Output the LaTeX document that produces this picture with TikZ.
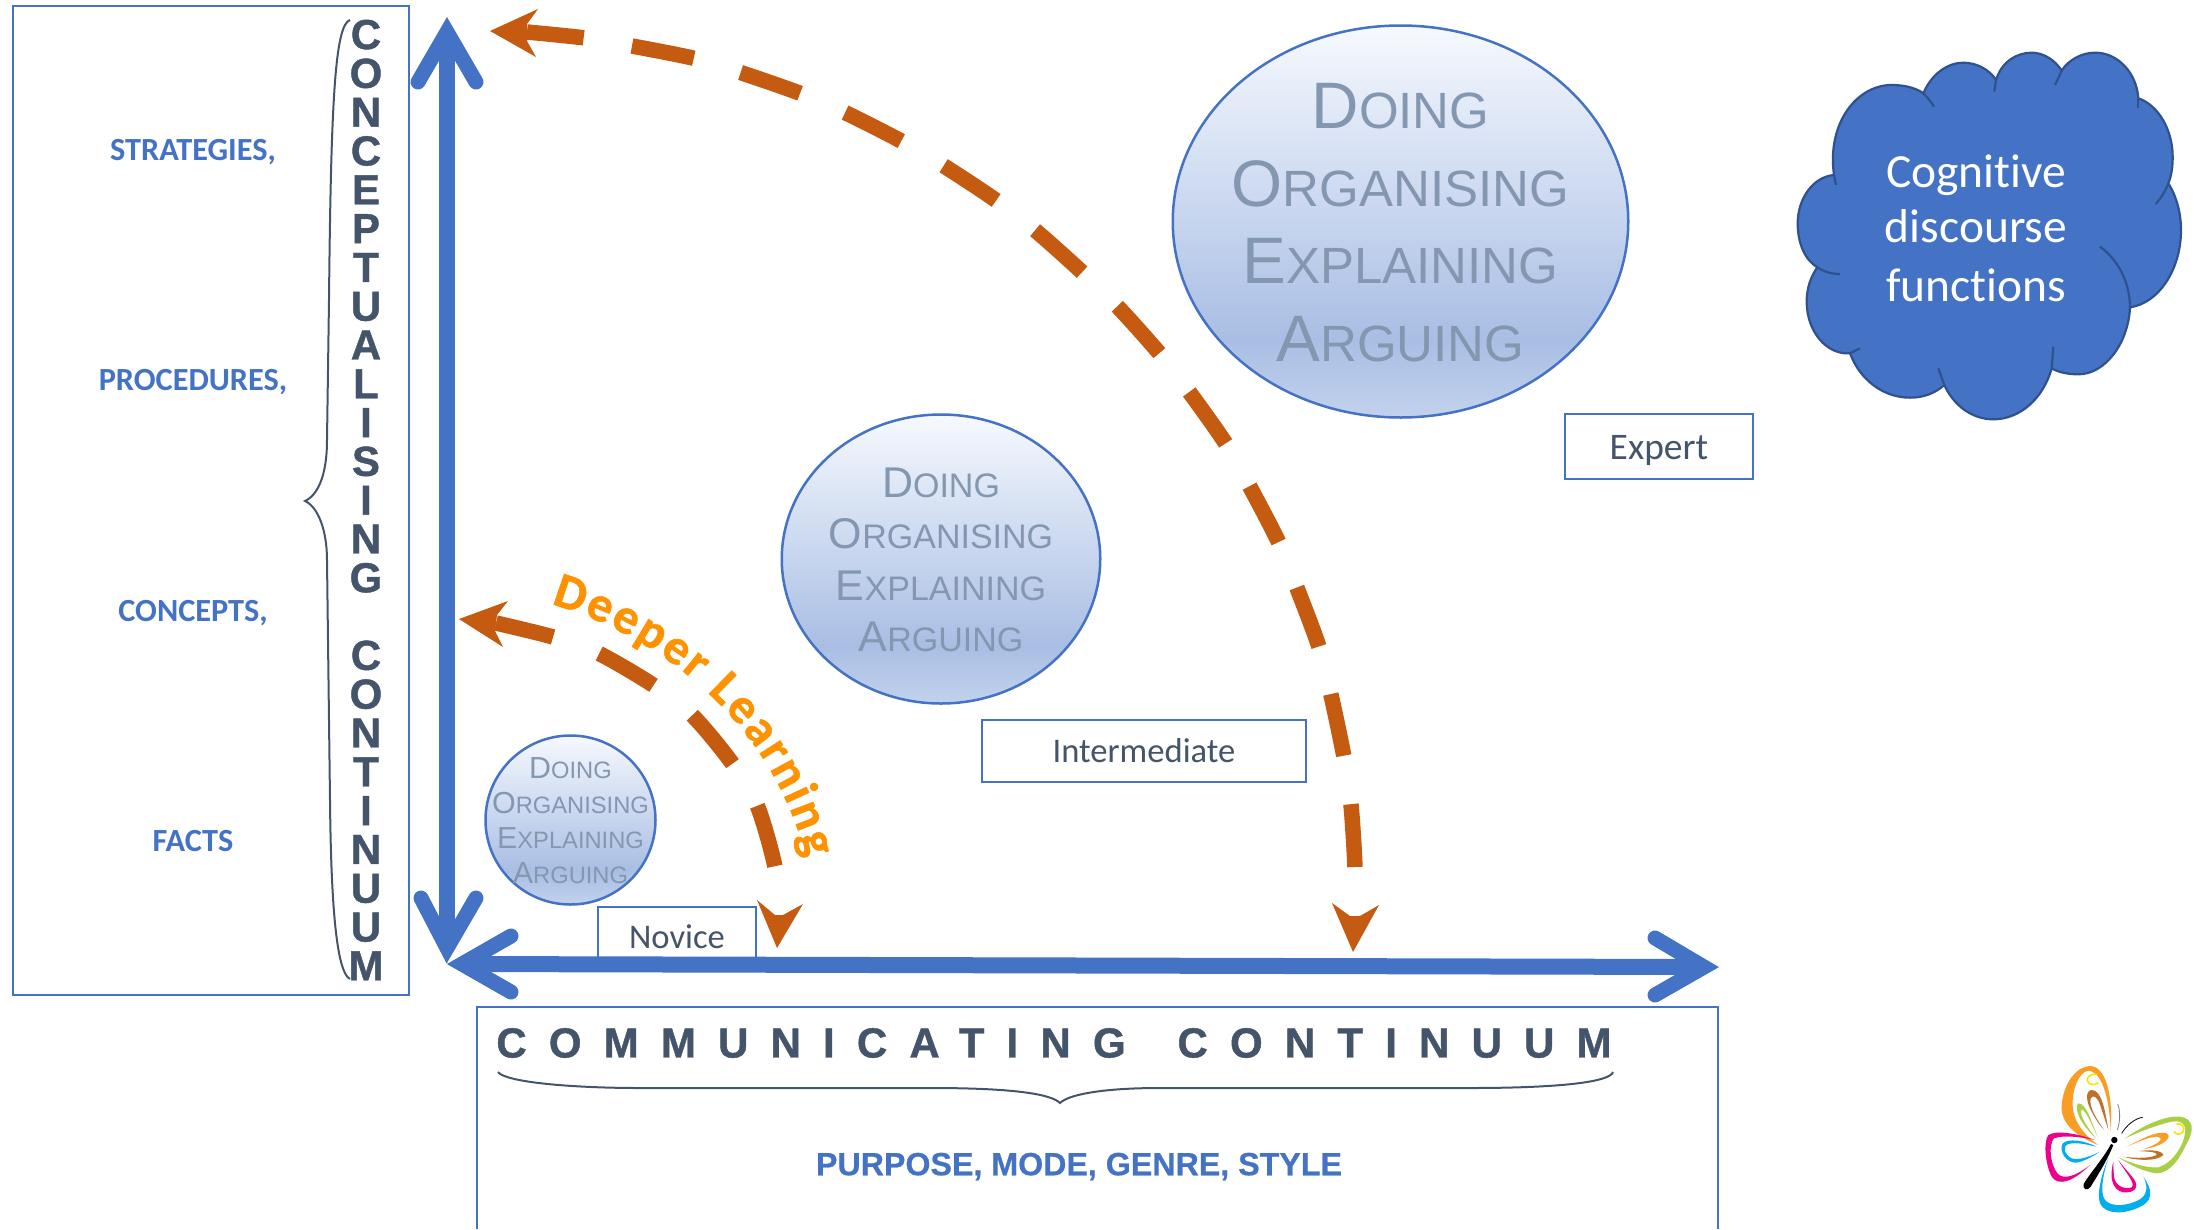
\documentclass[tikz,border=0pt]{standalone}
\usepackage{fontspec}
\usetikzlibrary{shapes.geometric,decorations.text}
\setmainfont[Ligatures=NoCommon]{Carlito}
\newfontfamily\hv{Liberation Sans}
\newfontfamily\hvb[FakeBold=1]{Liberation Sans Bold}
\newfontfamily\hvbs[FakeBold=1,LetterSpace=52.8]{Liberation Sans Bold}
\newfontfamily\hvbp[FakeBold=.6]{Liberation Sans Bold}
\newfontfamily\dlf[FakeBold=1,Ligatures=NoCommon]{Carlito Bold}
\definecolor{dblue}{HTML}{4472C4}
\definecolor{dedge}{HTML}{2F528F}
\definecolor{dorange}{HTML}{C55A11}
\definecolor{dslate}{HTML}{44546A}
\definecolor{dgray}{HTML}{8497B0}
\definecolor{dlearn}{HTML}{FF9200}
\definecolor{gT}{HTML}{F6F9FE}
\definecolor{gM}{HTML}{A9BEE4}
\definecolor{gB}{HTML}{C2D2ED}
\pgfdeclareverticalshading{circgrad}{100bp}{color(0bp)=(gB);color(25bp)=(gB);color(35bp)=(gM);color(75bp)=(gT);color(100bp)=(gT)}
\newcommand\sclines[2]{%
 {\fontsize{#1}{#1}\selectfont D}{\fontsize{#2}{#2}\selectfont OING}\\
 {\fontsize{#1}{#1}\selectfont O}{\fontsize{#2}{#2}\selectfont RGANISING}\\
 {\fontsize{#1}{#1}\selectfont E}{\fontsize{#2}{#2}\selectfont XPLAINING}\\
 {\fontsize{#1}{#1}\selectfont A}{\fontsize{#2}{#2}\selectfont RGUING}}
\tikzset{
 framebox/.style={draw=dblue,line width=2pt},
 labelbox/.style={draw=dblue,line width=2pt,fill=white,inner sep=0pt,outer sep=0pt,text=dslate,font=\fontsize{34.6}{34.6}\selectfont},
 sidelabel/.style={text=dblue,inner sep=0pt,font=\fontsize{32.3}{32.3}\selectfont\bfseries},
 blob/.style={ellipse,draw=dblue,line width=2.5pt,shading=circgrad,inner sep=0pt},
 blobtext/.style={text=dgray,inner sep=0pt,align=center},
 axisline/.style={draw=dblue,line width=16pt},
 axisbarb/.style={draw=dblue,line width=15pt,line cap=round,miter limit=10},
 pathline/.style={draw=dorange,line width=15.5pt,dash pattern=on 63pt off 49pt,dash phase=63pt},
 headfill/.style={fill=dorange},
 bracket/.style={draw=dslate,line width=2pt},
 cloudline/.style={draw=dedge,line width=2.2pt},
}
\begin{document}
\begin{tikzpicture}[x=1pt,y=-1pt]
\useasboundingbox (0,0) rectangle (2194,1229);

% frames
\draw[framebox] (13,6) rectangle (409,995);
\coordinate (cbl) at (477,1229);
\coordinate (cbr) at (1718,1229);
\draw[framebox] (cbl) -- (477,1007) -- (1718,1007) -- (cbr);

% left column
\node[sidelabel] (strat) at (193,152) {STRATEGIES,};
\node[sidelabel] (proc) at (193,382) {PROCEDURES,};
\node[sidelabel] (conc) at (193,613) {CONCEPTS,};
\node[sidelabel] (facts) at (193,841) {FACTS};
\draw[bracket] (350,20) .. controls (335,25) and (331,100) .. (329,300) -- (327,440) .. controls (327,475) and (318,495) .. (305,501) .. controls (318,507) and (327,530) .. (327,560) -- (330,800) .. controls (331,900) and (336,972) .. (350,979);
\node[text=dslate,inner sep=0pt,align=center,font=\hvb\fontsize{42}{38.8}\selectfont] (vtitle) at (366,500) {C\\O\\N\\C\\E\\P\\T\\U\\A\\L\\I\\S\\I\\N\\G\\[38.8pt]C\\O\\N\\T\\I\\N\\U\\U\\M};

% bottom column
\node[text=dslate,inner sep=0pt,font=\hvbs\fontsize{42}{42}\selectfont] (htitle) at (1054,1043) {COMMUNICATING\hspace{18pt} CONTINUUM};
\draw[bracket] (498,1072) .. controls (505,1082) and (570,1088) .. (640,1088) -- (931,1088) .. controls (1020,1088) and (1052,1095) .. (1060,1103) .. controls (1068,1095) and (1100,1088) .. (1160,1088) -- (1470,1088) .. controls (1560,1088) and (1610,1082) .. (1613,1072);
\node[text=dblue,inner sep=0pt,font=\hvbp\fontsize{32.2}{32.2}\selectfont] (pmgs) at (1079,1166.5) {PURPOSE, MODE, GENRE, STYLE};

% level boxes
\node[labelbox,minimum width=158pt,minimum height=60pt,anchor=north west,text height=22pt,text depth=0pt] (novice) at (598,907) {Novice};
\node[labelbox,minimum width=324pt,minimum height=62pt] (inter) at (1144,750.5) {Intermediate};
\node[labelbox,minimum width=188pt,minimum height=65pt,text height=30pt,text depth=5pt,font=\fontsize{37.5}{37.5}\selectfont] (expert) at (1659,446.5) {Expert};

% blobs
\node[blob,minimum width=455.5pt,minimum height=392pt] (bigblob) at (1400.5,221.5) {};
\node[blobtext,font=\hv\fontsize{65.7}{77.7}\selectfont] (bigtext) at (1400.5,222.5) {\sclines{65.7}{51}};
\node[blob,minimum width=318.5pt,minimum height=289pt] (midblob) at (941,559) {};
\node[blobtext,font=\hv\fontsize{43}{51.3}\selectfont] (midtext) at (941,560) {\sclines{43}{34}};
\node[blob,minimum width=170pt,minimum height=169pt] (smallblob) at (570.5,820) {};
\node[blobtext,font=\hv\fontsize{30.4}{35}\selectfont] (smalltext) at (570.5,821) {\sclines{30.4}{23.7}};

% dashed orange paths
\coordinate (bigstart) at (1355,916);
\coordinate (bigend) at (527,32);
\draw[pathline] plot[smooth,tension=.5] coordinates {(bigstart) (1355,868) (1351,805) (1344,757) (1331,695) (1319,647) (1297,588) (1279,543) (1250,487) (1226,444) (1190,393) (1160,354) (1118,307) (1083,273) (1036,231) (997,201) (944,166) (903,142) (846,113) (802,94) (742,73) (697,59) (632,46) (585,38) (bigend)};
\fill[headfill] (1332,903) -- (1350,916) -- (1360,916) -- (1379,905) -- (1353,952) -- cycle;
\fill[headfill] (490,31) -- (538,9) -- (527,24) -- (527,41) -- (536,57) -- cycle;
\coordinate (smallstart) at (779,915);
\coordinate (smallend) at (496,623);
\draw[pathline] plot[smooth,tension=.5] coordinates {(smallstart) (775,867) (757,805) (732,763) (692,715) (653,685) (598,653) (553,637) (smallend)};
\fill[headfill] (757,900) -- (775,915) -- (783,915) -- (803,904) -- (777,948) -- cycle;
\fill[headfill] (459,619) -- (508,601) -- (497,615) -- (495,631) -- (503,647) -- cycle;

% deeper learning
\coordinate (dla) at (551,604);
\coordinate (dlb) at (675,641);
\coordinate (dlc) at (775,733);
\coordinate (dld) at (806,858);
\path[decorate,decoration={text along path,text color=dlearn,text align=fit to path,text={|\dlf\fontsize{50}{50}\selectfont|Deeper Learning}}] (dla) .. controls (dlb) and (dlc) .. (dld);

% axes
\coordinate (vtop) at (447,32);
\coordinate (vbot) at (447,948);
\coordinate (hleft) at (462,964);
\coordinate (hright) at (1704,967);
\draw[axisline] (vtop) -- (vbot);
\draw[axisline] (hleft) -- (hright);
\draw[axisbarb] (418,82) -- (vtop) -- (476,82);
\draw[axisbarb] (421,898) -- (vbot) -- (476,898);
\draw[axisbarb] (511,936) -- (hleft) -- (511,992);
\draw[axisbarb] (1655,938) -- (hright) -- (1655,995);

% cloud
\begin{scope}[shift={(1760,30)},x=0.33333pt,y=-0.33333pt]
\draw[cloudline,fill=dblue] (222,435) .. controls (200,280) and (290,165) .. (395,165) .. controls (430,165) and (465,172) .. (490,190)
 .. controls (515,130) and (565,98) .. (610,98) .. controls (650,98) and (690,120) .. (708,150)
 .. controls (725,95) and (770,68) .. (815,68) .. controls (850,68) and (885,90) .. (905,122)
 .. controls (925,90) and (965,68) .. (1005,68) .. controls (1075,68) and (1130,130) .. (1135,205)
 .. controls (1195,225) and (1238,300) .. (1238,380) .. controls (1238,410) and (1235,435) .. (1225,460)
 .. controls (1250,500) and (1263,550) .. (1263,600) .. controls (1263,720) and (1195,820) .. (1110,832)
 .. controls (1105,940) and (1035,1033) .. (955,1033) .. controls (925,1033) and (895,1027) .. (875,1015)
 .. controls (850,1105) and (780,1168) .. (700,1168) .. controls (635,1168) and (580,1125) .. (553,1065)
 .. controls (525,1090) and (490,1103) .. (450,1103) .. controls (370,1103) and (300,1050) .. (270,970)
 .. controls (200,975) and (140,905) .. (140,815) .. controls (140,775) and (152,740) .. (172,712)
 .. controls (135,690) and (113,640) .. (113,580) .. controls (113,505) and (160,440) .. (222,435) -- cycle;
\draw[cloudline] (490,190) .. controls (503,203) and (513,215) .. (522,230);
\draw[cloudline] (708,150) -- (703,185);
\draw[cloudline] (905,122) -- (885,165);
\draw[cloudline] (1135,205) -- (1135,235);
\draw[cloudline] (1225,460) .. controls (1215,485) and (1203,505) .. (1187,522);
\draw[cloudline] (1020,650) .. controls (1075,690) and (1112,760) .. (1110,840);
\draw[cloudline] (875,1015) -- (880,950);
\draw[cloudline] (553,1065) -- (535,1015);
\draw[cloudline] (270,970) -- (300,955);
\draw[cloudline] (172,712) .. controls (190,725) and (215,732) .. (240,732);
\draw[cloudline] (222,435) -- (228,465);
\end{scope}
\node[text=white,inner sep=0pt,align=center,font=\fontsize{47.5}{55}\selectfont] (cloudtext) at (1976,228) {Cognitive\\discourse\\[4pt]functions};

% butterfly
\begin{scope}[shift={(1980,1030)},x=0.33333pt,y=-0.33333pt]
\definecolor{bo}{HTML}{F99D25}
\definecolor{bb}{HTML}{C0702A}
\definecolor{bg}{HTML}{A8CF45}
\definecolor{bm}{HTML}{EC008C}
\definecolor{bc}{HTML}{00AEEF}
\definecolor{by}{HTML}{F4E500}
\fill[bo] (355,345) .. controls (290,320) and (240,280) .. (245,225) .. controls (250,160) and (290,108) .. (330,108) .. controls (375,108) and (400,190) .. (392,305) .. controls (390,220) and (370,125) .. (325,122) .. controls (295,125) and (270,190) .. (280,245) .. controls (290,290) and (325,325) .. (355,345) -- cycle;
\draw[by,line width=1.6pt] (352,134) .. controls (335,128) and (320,140) .. (322,152) .. controls (325,165) and (345,168) .. (355,158);
\fill[bb] (385,300) .. controls (375,240) and (365,180) .. (335,180) .. controls (315,182) and (318,215) .. (335,245) .. controls (345,265) and (358,285) .. (372,300) .. controls (352,270) and (325,230) .. (332,205) .. controls (340,190) and (355,205) .. (362,230) .. controls (372,260) and (380,285) .. (385,300) -- cycle;
\fill[bg] (355,325) .. controls (335,280) and (320,220) .. (295,220) .. controls (280,235) and (300,280) .. (350,328) .. controls (325,295) and (295,255) .. (305,238) .. controls (318,240) and (335,285) .. (355,325) -- cycle;
\fill[bm] (345,330) .. controls (290,310) and (230,300) .. (205,315) .. controls (190,335) and (195,400) .. (215,440) .. controls (235,470) and (280,455) .. (330,405) .. controls (285,440) and (250,450) .. (232,430) .. controls (210,400) and (205,345) .. (222,325) .. controls (250,315) and (300,320) .. (345,330) -- cycle;
\fill[bc] (350,350) .. controls (310,330) and (265,325) .. (248,340) .. controls (235,365) and (260,400) .. (290,398) .. controls (315,393) and (340,378) .. (360,365) .. controls (330,380) and (295,392) .. (275,385) .. controls (255,375) and (245,350) .. (265,342) .. controls (290,335) and (325,345) .. (350,350) -- cycle;
\fill[bc] (385,385) .. controls (365,430) and (350,490) .. (360,520) .. controls (375,555) and (440,555) .. (490,525) .. controls (520,505) and (515,475) .. (490,440) .. controls (510,480) and (495,505) .. (465,515) .. controls (430,530) and (385,530) .. (372,505) .. controls (360,480) and (370,430) .. (385,385) -- cycle;
\fill[bm] (400,395) .. controls (388,440) and (395,480) .. (430,487) .. controls (465,490) and (480,470) .. (460,445) .. controls (440,420) and (425,405) .. (415,390) .. controls (430,420) and (470,460) .. (455,472) .. controls (430,480) and (405,465) .. (402,440) .. controls (400,420) and (400,405) .. (400,395) -- cycle;
\fill[bg] (435,325) .. controls (490,285) and (560,255) .. (600,260) .. controls (640,265) and (645,300) .. (620,340) .. controls (600,385) and (570,430) .. (530,430) .. controls (490,425) and (450,405) .. (415,382) .. controls (455,400) and (500,415) .. (535,412) .. controls (575,400) and (610,350) .. (615,310) .. controls (620,280) and (600,270) .. (575,275) .. controls (530,285) and (480,305) .. (435,325) -- cycle;
\draw[by,line width=1.6pt] (590,282) .. controls (605,278) and (615,292) .. (610,303) .. controls (605,315) and (588,315) .. (582,305);
\fill[bo] (440,350) .. controls (480,330) and (530,300) .. (560,310) .. controls (580,320) and (550,350) .. (490,357) .. controls (530,345) and (560,325) .. (530,320) .. controls (510,320) and (475,335) .. (440,350) -- cycle;
\fill[bb] (430,380) .. controls (470,392) and (530,395) .. (550,375) .. controls (545,358) and (500,360) .. (475,363) .. controls (500,365) and (535,365) .. (530,375) .. controls (510,385) and (470,385) .. (430,380) -- cycle;
\fill[black] (393,342) .. controls (370,385) and (330,430) .. (312,460) .. controls (305,478) and (322,485) .. (332,470) .. controls (350,440) and (380,395) .. (400,345) -- cycle;
\fill[black] (403,330) circle[radius=3.2pt];
\draw[gray,line width=.8pt] (413,222) .. controls (422,245) and (420,275) .. (412,300);
\draw[black,line width=.8pt] (488,262) .. controls (465,265) and (440,285) .. (425,310);
\end{scope}
\end{tikzpicture}
\end{document}
